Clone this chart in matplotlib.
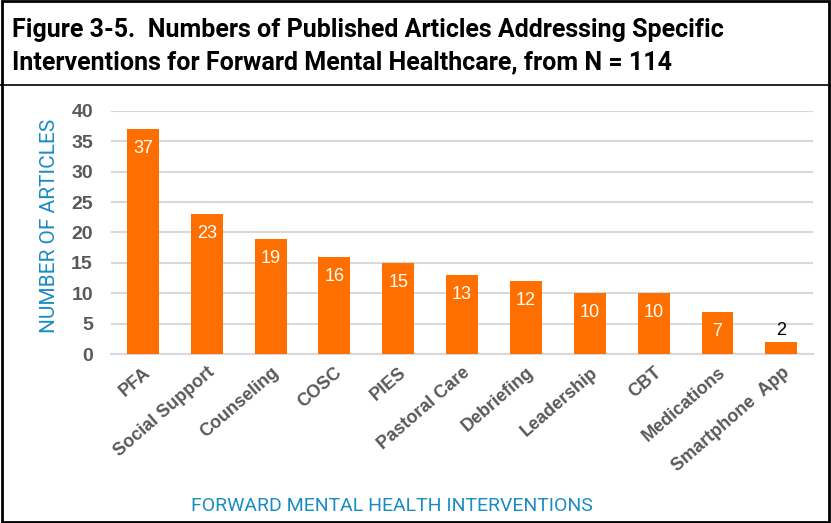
import matplotlib.pyplot as plt
from matplotlib.patches import Rectangle
from matplotlib.lines import Line2D

plt.rcParams['font.family'] = ['Roboto', 'DejaVu Sans']

categories = ['PFA', 'Social Support', 'Counseling', 'COSC', 'PIES', 'Pastoral Care',
              'Debriefing', 'Leadership', 'CBT', 'Medications', 'Smartphone  App']
counts = [37, 23, 19, 16, 15, 13, 12, 10, 10, 7, 2]

orange = '#ff6f00'
blue = '#1a8cc4'
gray = '#595959'
arial = ['Liberation Sans', 'DejaVu Sans']

fig = plt.figure(figsize=(8.31, 5.23), dpi=100)
ax = fig.add_axes([0.1336, 0.323, 0.845, 0.465])

x = range(len(categories))
bars = ax.bar(x, counts, width=0.5, color=orange, zorder=3)

for i, v in enumerate(counts):
    if v >= 5:
        ax.annotate(str(v), (i, v), xytext=(0, -8), textcoords='offset points',
                    ha='center', va='top', color='white', fontsize=13, family=arial)
    else:
        ax.annotate(str(v), (i, v), xytext=(0, 2), textcoords='offset points',
                    ha='center', va='bottom', color='black', fontsize=13, family=arial)

ax.set_xlim(-0.5, len(categories) - 0.5)
ax.set_ylim(0, 40)
ax.set_yticks(range(0, 41, 5))
ax.yaxis.grid(True, color='#d9d9d9', linewidth=1.5, zorder=0)
ax.set_axisbelow(True)
for s in ['top', 'right', 'left']:
    ax.spines[s].set_visible(False)
ax.spines['bottom'].set_color('#d9d9d9')
ax.spines['bottom'].set_linewidth(1.5)
ax.tick_params(axis='both', length=0)
ax.tick_params(axis='y', pad=13)
for lab in ax.get_yticklabels():
    lab.set_fontweight('bold')
    lab.set_color(gray)
    lab.set_fontsize(14)
    lab.set_family(arial)

ax.set_xticks(list(x))
ax.set_xticklabels(categories, rotation=41, ha='right', rotation_mode='anchor',
                   fontsize=13, color=gray, family=arial, fontweight='bold')
ax.tick_params(axis='x', pad=7)

ax.set_ylabel('NUMBER OF ARTICLES', color=blue, fontsize=15)
ax.yaxis.set_label_coords(-0.074, 0.527)
fig.text(0.472, 0.033, 'FORWARD MENTAL HEALTH INTERVENTIONS', color=blue,
         fontsize=14, ha='center', va='center')

fig.text(0.015, 0.942, 'Figure 3-5.  Numbers of Published Articles Addressing Specific',
         fontsize=18, fontweight='bold', ha='left', va='center')
fig.text(0.015, 0.881, 'Interventions for Forward Mental Healthcare, from N = 114',
         fontsize=18, fontweight='bold', ha='left', va='center')

fig.patches.append(Rectangle((0.002, 0.002), 0.996, 0.996, transform=fig.transFigure,
                             fill=False, edgecolor='black', linewidth=2))
fig.lines.append(Line2D([0, 1], [0.838, 0.838], transform=fig.transFigure,
                        color='black', linewidth=1.2))

fig.savefig('out.png', dpi=100)
